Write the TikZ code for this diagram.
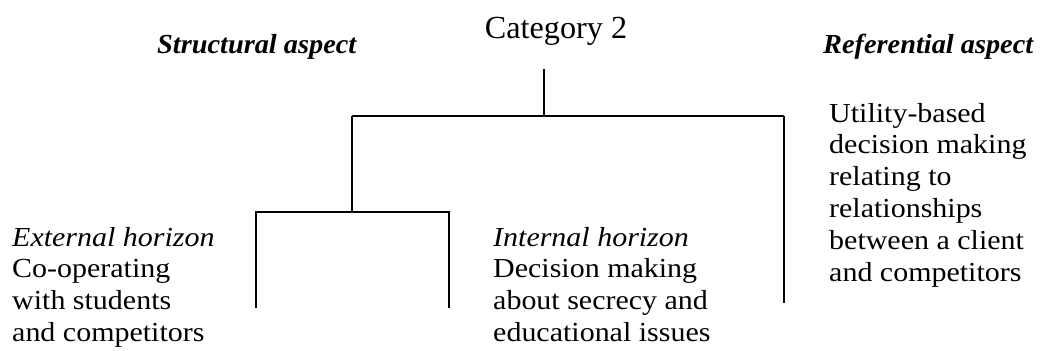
\documentclass[tikz,border=0pt]{standalone}
\usepackage{fontspec}
\setmainfont{Liberation Serif}
\newfontfamily\bodyfont{Liberation Serif}[FakeStretch=1.09]
\newfontfamily\headfont{Liberation Serif}[FakeStretch=1.03]
\begin{document}
\begin{tikzpicture}[x=1pt,y=-1pt,
  line/.style={draw=black,line width=1.6pt},
  body/.style={inner sep=0pt,anchor=base west,font=\bodyfont\fontsize{27.5}{31.8}\selectfont},
  head/.style={inner sep=0pt,anchor=base west,font=\headfont\fontsize{27.5}{31.8}\selectfont\bfseries\itshape},
  title/.style={inner sep=0pt,anchor=base,font=\fontsize{32.2}{38}\selectfont}]
\useasboundingbox (0,0) rectangle (1045,351);
% headings
\node[title] (cat) at (556,38) {Category 2};
\node[head] (struct) at (157,53) {Structural aspect};
\node[head] (refer) at (823,53) {Referential aspect};
% text blocks
\node[body] (ext) at (12,246) {\begin{tabular}[t]{@{}l@{}}\textit{External horizon}\\Co-operating\\with students\\and competitors\end{tabular}};
\node[body] (int) at (493,246) {\begin{tabular}[t]{@{}l@{}}\textit{Internal horizon}\\Decision making\\about secrecy and\\educational issues\end{tabular}};
\node[body] (util) at (829,122) {\begin{tabular}[t]{@{}l@{}}Utility-based\\decision making\\relating to\\relationships\\between a client\\and competitors\end{tabular}};
% tree junctions
\coordinate (stem) at (544,69);
\coordinate (root) at (544,116);
\coordinate (bl) at (352,116);
\coordinate (br) at (784,116);
\coordinate (brend) at (784,303);
\coordinate (sub) at (352,212);
\coordinate (sl) at (256,212);
\coordinate (sr) at (449,212);
\coordinate (slend) at (256,308);
\coordinate (srend) at (449,308);
% tree lines
\draw[line] (stem) -- (root);
\draw[line] (bl) -- (br);
\draw[line] (br) -- (brend);
\draw[line] (bl) -- (sub);
\draw[line] (slend) -- (sl) -- (sr) -- (srend);
\end{tikzpicture}
\end{document}
